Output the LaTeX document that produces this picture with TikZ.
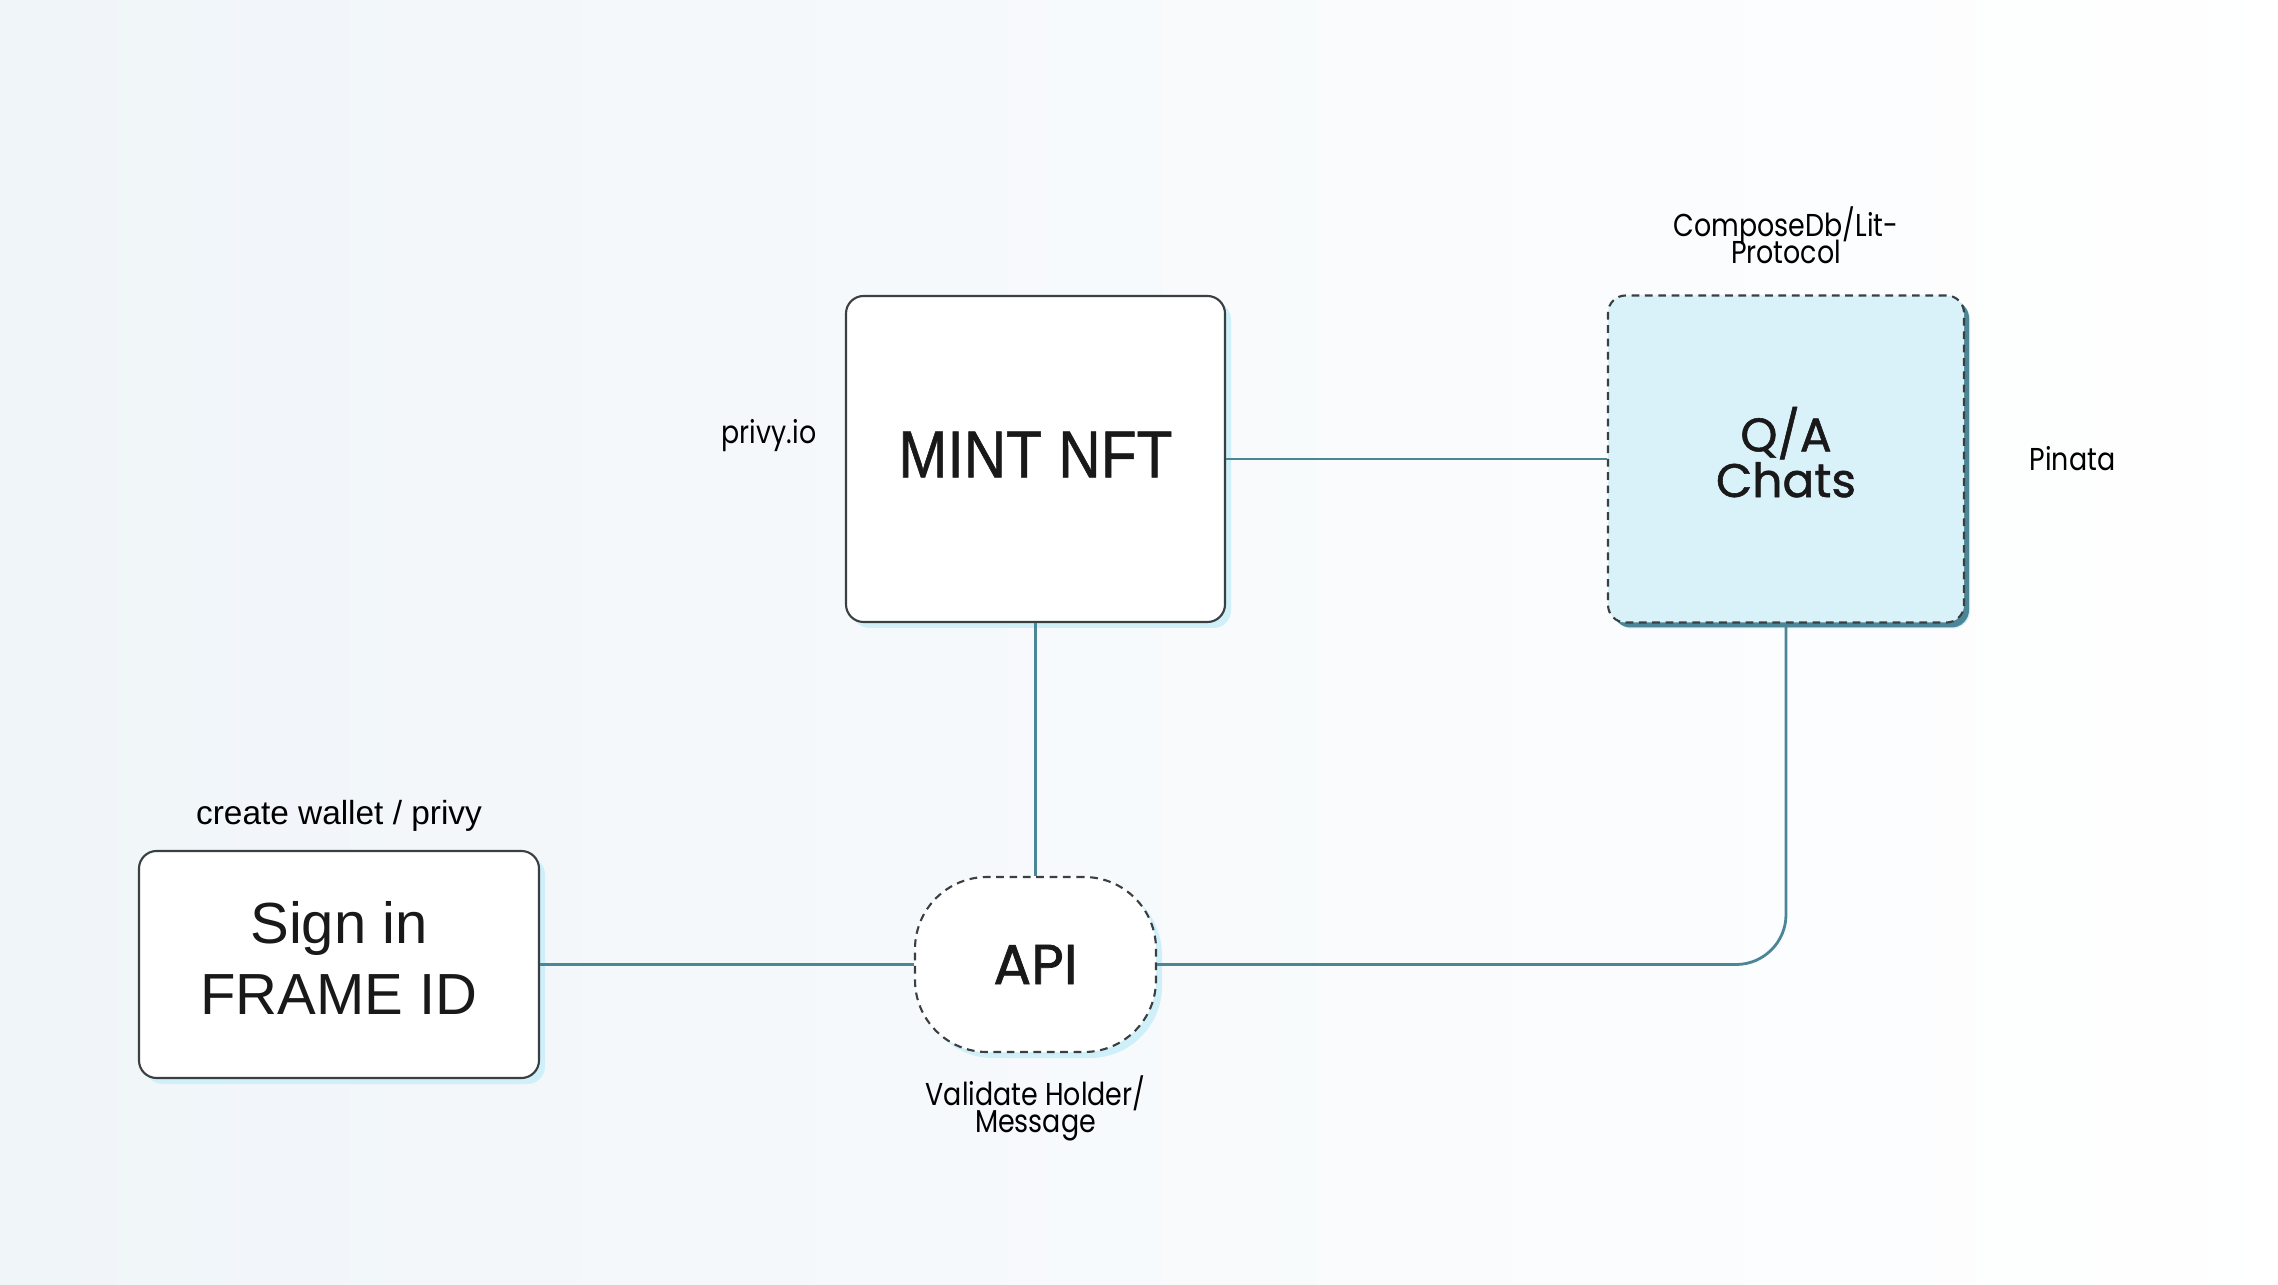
\documentclass[tikz,border=0pt]{standalone}
\usepackage{fontspec}
\setmainfont{Liberation Sans}
\newfontfamily\roundfont[FakeBold=1.2]{Poppins}
\newfontfamily\labelfont[FakeStretch=0.85]{Poppins}
\newfontfamily\narrowfont[FakeStretch=0.88,FakeBold=0.8]{Liberation Sans}
\usepackage{tikz}
\usetikzlibrary{positioning,shadows}
\definecolor{linkteal}{HTML}{4A8696}
\definecolor{boxline}{HTML}{3A3F42}
\definecolor{qafill}{HTML}{D9F1F8}
\definecolor{glow}{HTML}{CFEFF9}
\definecolor{bgblue}{HTML}{F0F5F9}

\begin{document}
\begin{tikzpicture}[
    box/.style={draw=boxline, rounded corners=5pt, line width=0.6pt, fill=white, inner sep=0pt, align=center, text=black!90,
      drop shadow={shadow xshift=0.6mm, shadow yshift=-0.6mm, fill=glow, opacity=1}},
    dashbox/.style={box, dash pattern=on 2.2pt off 1.6pt},
    lbl/.style={inner sep=0pt, align=center, font={\labelfont\fontsize{9}{7.8}\selectfont\lineskiplimit=-20pt}},
    link/.style={draw=linkteal, line width=0.8pt},
    node distance=2mm
]
% background
\shade[left color=bgblue, right color=white!98!bgblue] (0,0) rectangle (22.78,12.84);
\useasboundingbox (0,0) rectangle (22.78,12.84);

\node[box, minimum width=4cm, minimum height=2.27cm, text depth=1.3mm, font=\fontsize{16.5}{20}\selectfont] (signin) at (3.39,3.195) {Sign in\\FRAME ID};
\node[box, minimum width=3.79cm, minimum height=3.26cm, text depth=0.9mm, font=\narrowfont\fontsize{19}{22}\selectfont] (mint) at (10.355,8.25) {MINT NFT};
\node[dashbox, fill=qafill, minimum width=3.56cm, minimum height=3.27cm, text depth=1.4mm, font=\roundfont\fontsize{13.4}{13}\selectfont,
  drop shadow={shadow xshift=0.5mm, shadow yshift=-0.5mm, fill=linkteal, opacity=1}] (qa) at (17.86,8.25) {Q/A\\Chats};
\node[dashbox, rounded corners=0.72cm, minimum width=2.41cm, minimum height=1.75cm, font=\roundfont\fontsize{16}{18}\selectfont] (api) at (10.355,3.195) {API};

% labels
\node[inner sep=0pt, font=\fontsize{9.5}{11}\selectfont, above=1.8mm of signin] (walletlbl) {create wallet / privy};
\node[lbl, left=2.8mm of mint.west, yshift=2.3mm] (privylbl) {privy.io};
\node[lbl, above=3mm of qa] (composelbl) {ComposeDb/Lit-\\Protocol};
\node[lbl, right=6.4mm of qa] (pinatalbl) {Pinata};
\node[lbl, below=2.2mm of api] (validatelbl) {Validate Holder/\\Message};

% connectors
\draw[link] (mint.east) -- (qa.west);
\draw[link] (mint.south) -- (api.north);
\draw[link] (signin.east) -- (api.west);
\draw[link, rounded corners=5mm] (api.east) -| (qa.south);
\end{tikzpicture}
\end{document}
